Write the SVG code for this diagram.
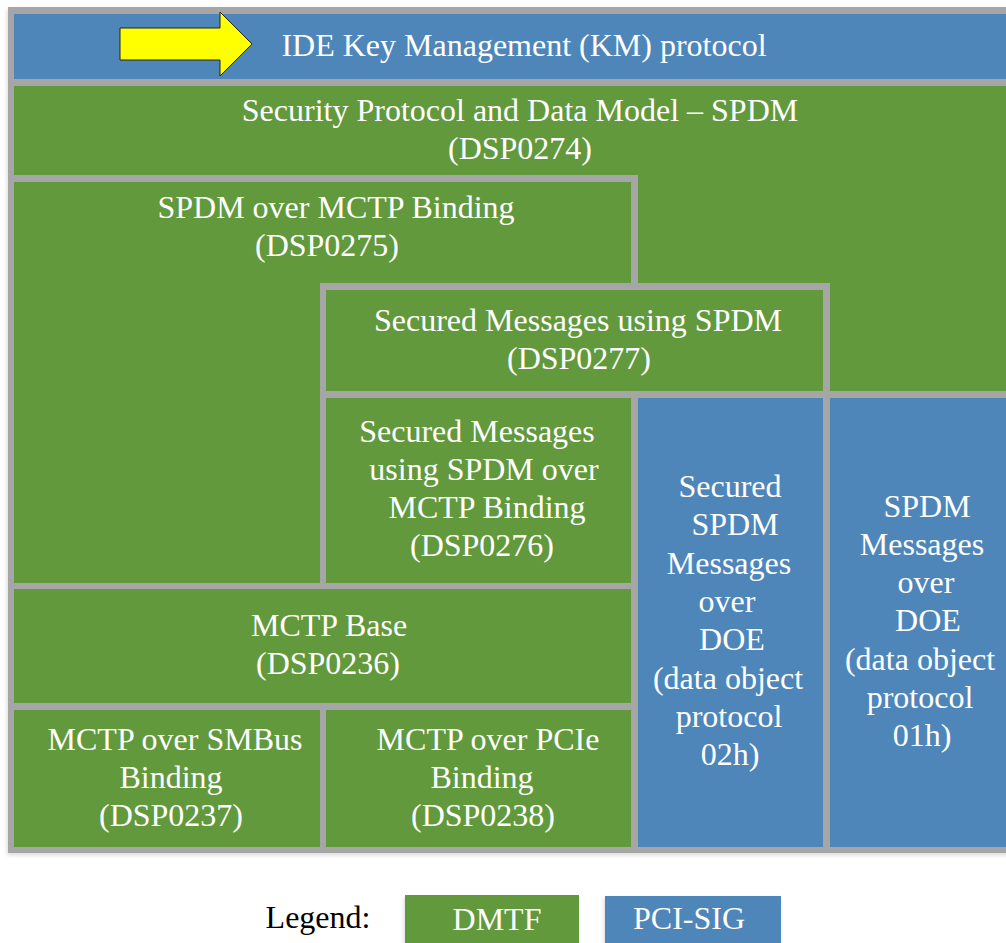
<svg xmlns="http://www.w3.org/2000/svg" width="1006" height="943" viewBox="0 0 1006 943">
  <defs>
    <style>
      .g { fill: #62993D; }
      .b { fill: #4F86BA; }
      .t { font-family: "Liberation Serif", "Times New Roman", serif; font-size: 32px; fill: #FFFFFF; text-anchor: middle; }
      .k { font-family: "Liberation Serif", "Times New Roman", serif; font-size: 32px; fill: #000000; text-anchor: middle; }
    </style>
    <filter id="sh" x="-5%" y="-5%" width="110%" height="110%">
      <feGaussianBlur in="SourceAlpha" stdDeviation="2"/>
      <feOffset dx="-1" dy="2" result="o"/>
      <feComponentTransfer><feFuncA type="linear" slope="0.15"/></feComponentTransfer>
      <feMerge><feMergeNode/><feMergeNode in="SourceGraphic"/></feMerge>
    </filter>
  </defs>
  <rect width="1006" height="943" fill="#FFFFFF"/>

  <!-- gray frame / separators -->
  <rect id="frame" x="8" y="7" width="1010" height="846" fill="#A6A6A6" filter="url(#sh)"/>

  <g id="ide-km">
    <rect class="b" x="14" y="14" width="1000" height="65"/>
    <polygon points="120,28 220,28 220,12 252,44 220,76 220,60 120,60" fill="#FFFF00" stroke="#222222" stroke-width="1"/>
    <text class="t" x="524" y="56">IDE Key Management (KM) protocol</text>
  </g>

  <g id="spdm">
    <polygon class="g" points="14,86 1014,86 1014,391 830,391 830,283 638,283 638,175 14,175"/>
    <text class="t" x="520" y="121">Security Protocol and Data Model – SPDM</text>
    <text class="t" x="520" y="159">(DSP0274)</text>
  </g>

  <g id="spdm-mctp">
    <polygon class="g" points="14,182 631,182 631,283 320,283 320,583 14,583"/>
    <text class="t" x="336" y="218">SPDM over MCTP Binding</text>
    <text class="t" x="327" y="256">(DSP0275)</text>
  </g>

  <g id="secured-spdm">
    <rect class="g" x="326" y="290" width="497" height="101"/>
    <text class="t" x="578" y="331">Secured Messages using SPDM</text>
    <text class="t" x="579" y="369">(DSP0277)</text>
  </g>

  <g id="secured-mctp">
    <rect class="g" x="326" y="398" width="305" height="185"/>
    <text class="t" x="477" y="442">Secured Messages</text>
    <text class="t" x="484" y="480">using SPDM over</text>
    <text class="t" x="487" y="518">MCTP Binding</text>
    <text class="t" x="482" y="556">(DSP0276)</text>
  </g>

  <g id="mctp-base">
    <rect class="g" x="14" y="589" width="617" height="114"/>
    <text class="t" x="329" y="636">MCTP Base</text>
    <text class="t" x="328" y="674">(DSP0236)</text>
  </g>

  <g id="mctp-smbus">
    <rect class="g" x="14" y="710" width="306" height="137"/>
    <text class="t" x="175" y="750">MCTP over SMBus</text>
    <text class="t" x="171" y="788">Binding</text>
    <text class="t" x="171" y="826">(DSP0237)</text>
  </g>

  <g id="mctp-pcie">
    <rect class="g" x="326" y="710" width="305" height="137"/>
    <text class="t" x="488" y="750">MCTP over PCIe</text>
    <text class="t" x="482" y="788">Binding</text>
    <text class="t" x="483" y="826">(DSP0238)</text>
  </g>

  <g id="secured-doe">
    <rect class="b" x="638" y="398" width="185" height="449"/>
    <text class="t" x="730" y="497">Secured</text>
    <text class="t" x="735" y="535">SPDM</text>
    <text class="t" x="729" y="574">Messages</text>
    <text class="t" x="727" y="612">over</text>
    <text class="t" x="732" y="650">DOE</text>
    <text class="t" x="728" y="689">(data object</text>
    <text class="t" x="729" y="727">protocol</text>
    <text class="t" x="730" y="765">02h)</text>
  </g>

  <g id="spdm-doe">
    <rect class="b" x="830" y="398" width="190" height="449"/>
    <text class="t" x="927" y="517">SPDM</text>
    <text class="t" x="922" y="555">Messages</text>
    <text class="t" x="926" y="593">over</text>
    <text class="t" x="928" y="631">DOE</text>
    <text class="t" x="920" y="670">(data object</text>
    <text class="t" x="920" y="708">protocol</text>
    <text class="t" x="922" y="746">01h)</text>
  </g>

  <g id="connectors"></g>

  <g id="legend">
    <text class="k" x="318" y="928">Legend:</text>
    <rect class="g" x="405" y="895" width="174" height="50" filter="url(#sh)"/>
    <text class="t" x="497" y="930">DMTF</text>
    <rect class="b" x="605" y="896" width="176" height="49" filter="url(#sh)"/>
    <text class="t" x="689" y="929">PCI-SIG</text>
  </g>
</svg>
